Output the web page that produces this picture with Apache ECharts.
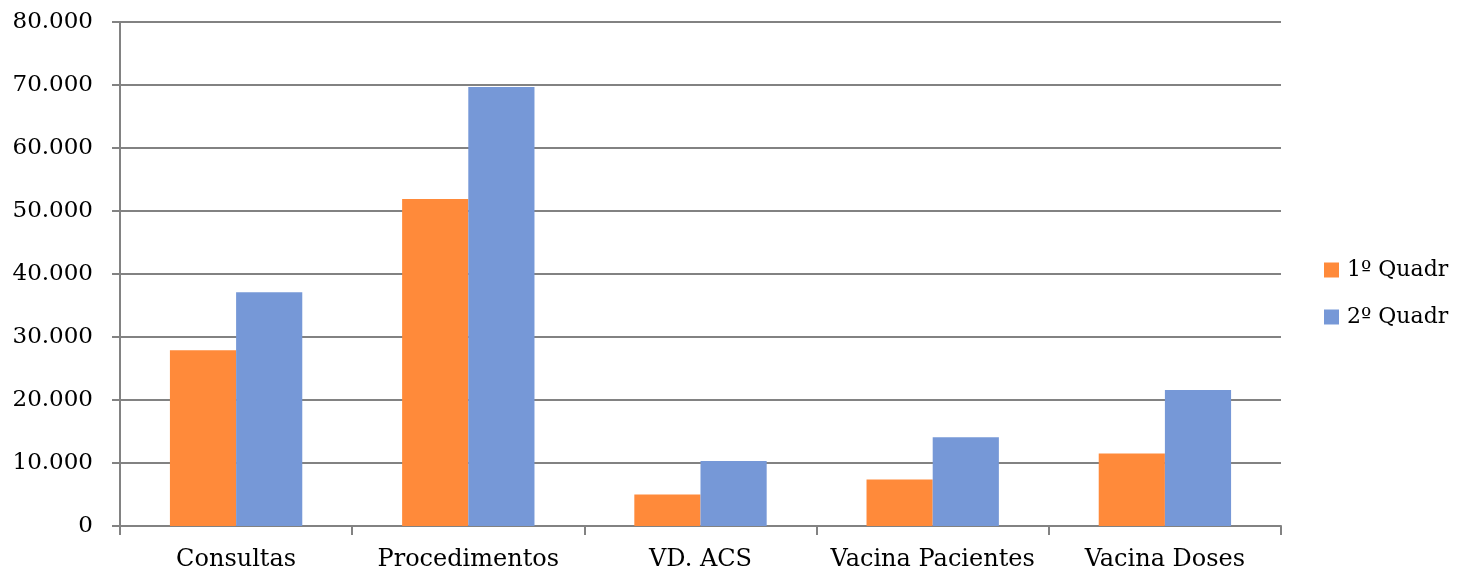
<!DOCTYPE html>
<html>
<head>
<meta charset="utf-8">
<script src="https://cdn.jsdelivr.net/npm/echarts@6/dist/echarts.min.js"></script>
<style>html,body{margin:0;padding:0;background:#fff;}#c{width:1458px;height:573px;}</style>
</head>
<body>
<div id="c"></div>
<script>
const categories = ['Consultas', 'Procedimentos', 'VD. ACS', 'Vacina Pacientes', 'Vacina Doses'];
const seriesNames = ['1º Quadr', '2º Quadr'];
const q1 = [27900, 51900, 5000, 7400, 11500];
const q2 = [37100, 69700, 10300, 14100, 21600];
const yTicks = { min: 0, max: 80000, interval: 10000 };

const FONT = '"DejaVu Serif", serif';
const chart = echarts.init(document.getElementById('c'));
chart.setOption({
  animation: false,
  backgroundColor: '#fff',
  grid: { left: 120, right: 177, top: 22, bottom: 47, containLabel: false },
  legend: {
    orient: 'vertical', left: 1324, top: 257, padding: 0,
    icon: 'rect',
    itemWidth: 15, itemHeight: 15, itemGap: 21,
    textStyle: { fontFamily: FONT, fontSize: 22, color: '#000', padding: [0, 0, 0, 3], lineHeight: 26 },
    data: seriesNames
  },
  xAxis: {
    type: 'category', data: categories,
    axisLine: { lineStyle: { color: '#828282', width: 2 } },
    axisTick: { show: true, length: 9, lineStyle: { color: '#828282', width: 2 } },
    axisLabel: { interval: 0, hideOverlap: false, margin: 22, fontFamily: FONT, fontSize: 24, color: '#000' }
  },
  yAxis: {
    type: 'value', min: yTicks.min, max: yTicks.max, interval: yTicks.interval,
    axisLine: { show: true, lineStyle: { color: '#828282', width: 2 } },
    axisTick: { show: true, length: 8, lineStyle: { color: '#828282', width: 2 } },
    splitLine: { show: true, lineStyle: { color: '#828282', width: 2 } },
    axisLabel: {
      margin: 27, fontFamily: FONT, fontSize: 23, color: '#000',
      formatter: v => v === 0 ? '0' : (v / 1000).toFixed(0) + '.000'
    }
  },
  series: [
    { name: seriesNames[0], type: 'bar', data: q1, barGap: '0%', barCategoryGap: '43%',
      itemStyle: { color: '#FF8A3A' } },
    { name: seriesNames[1], type: 'bar', data: q2, barGap: '0%', barCategoryGap: '43%',
      itemStyle: { color: '#7698D7' } }
  ]
});
</script>
</body>
</html>
